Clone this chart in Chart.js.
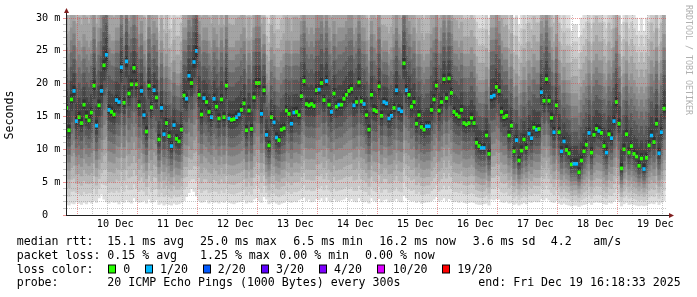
<!DOCTYPE html>
<html>
<head>
<meta charset="utf-8">
<title>SmokePing</title>
<script src="https://cdn.jsdelivr.net/npm/chart.js@4.4.1/dist/chart.umd.min.js"></script>
<style>
html,body{margin:0;padding:0;background:#ffffff;overflow:hidden}
#wrap{position:relative;width:697px;height:297px}
</style>
</head>
<body>
<div id="wrap"><canvas id="chart" width="697" height="297"></canvas></div>
<script>
// ---- data (one value per hourly column, first column = 9 Dec 16:00) ----
const FIRST_HOUR = -8;           // hours relative to 10 Dec 00:00
const dayLabels = ['10 Dec','11 Dec','12 Dec','13 Dec','14 Dec','15 Dec','16 Dec','17 Dec','18 Dec','19 Dec'];

const medianRtt = [
16.3,12.9,17.6,18.9,14.3,14.9,14.0,16.8,15.0,14.4,
15.6,19.7,13.6,16.7,18.9,22.8,24.4,16.0,15.7,15.3,
17.5,17.2,22.5,17.1,23.4,18.5,19.9,22.4,19.9,16.7,
18.9,15.2,12.7,19.7,16.4,19.0,17.9,11.5,16.3,12.3,
14.0,12.0,10.5,13.7,11.6,11.2,13.0,18.2,17.7,21.2,
20.1,23.3,25.0,18.3,15.3,17.8,17.2,15.7,14.9,17.7,
16.5,14.7,17.6,14.9,19.7,14.7,14.5,14.6,14.9,15.3,
16.0,17.0,12.9,15.9,13.1,17.9,20.1,20.1,15.4,19.0,
12.2,10.6,14.9,14.1,11.8,11.4,13.0,13.2,15.9,15.4,
13.9,15.6,15.7,15.2,18.1,20.4,16.9,16.7,16.9,16.6,
19.0,19.1,20.1,17.5,20.4,16.8,15.7,18.5,16.5,16.8,
16.8,17.7,18.3,18.9,19.2,16.7,17.2,20.2,17.3,16.9,
15.2,13.0,18.3,16.0,15.8,19.6,15.1,17.2,17.0,14.7,
15.1,16.3,19.0,16.1,15.8,23.1,19.0,18.3,16.5,17.2,
13.9,15.2,13.4,13.0,13.5,13.5,16.0,17.6,19.7,15.9,
17.2,20.7,17.8,20.8,18.6,15.7,15.3,15.0,16.0,14.0,
13.8,14.0,14.8,14.0,11.0,10.5,10.2,10.2,12.1,9.3,
18.0,18.2,19.5,18.9,15.7,14.9,15.1,12.1,13.6,9.7,
11.4,8.3,9.8,11.5,10.2,12.4,11.7,13.3,13.0,13.1,
18.7,17.4,20.7,17.4,14.8,12.6,16.7,12.6,9.7,11.2,
9.9,9.4,7.7,7.8,7.8,6.5,8.3,9.7,10.7,12.5,
9.5,12.2,13.1,12.8,12.5,10.5,9.5,12.3,11.7,14.3,
17.2,13.9,7.1,10.0,12.3,9.5,10.5,9.3,8.9,7.5,
8.6,7.0,8.7,10.6,12.1,11.1,13.9,9.4,12.6,16.2
];

// loss bucket index per column (0 = no loss, 1 = 1/20)
const lossBucket = [
0,0,0,1,1,0,0,0,0,0,
0,0,1,0,1,0,1,1,0,0,
1,1,1,0,1,0,0,0,0,0,
1,1,0,0,0,1,0,0,1,1,
0,0,1,1,0,0,0,0,1,1,
0,1,1,0,0,1,0,0,1,1,
0,0,0,0,0,1,0,0,1,1,
0,0,0,0,0,0,0,0,1,0,
1,0,0,1,1,0,0,0,0,0,
1,1,0,0,0,0,0,0,0,0,
0,1,0,0,1,0,1,0,0,1,
0,0,0,0,0,1,0,0,0,1,
0,0,0,0,0,0,0,1,1,1,
1,0,1,1,1,0,1,0,0,0,
0,0,0,0,1,1,0,0,0,0,
0,0,0,0,0,0,0,0,0,0,
0,0,0,0,0,0,1,1,0,0,
1,1,0,0,0,0,0,0,0,0,
1,0,0,0,0,1,1,0,1,0,
1,0,0,0,0,1,0,0,1,1,
0,0,0,1,1,0,0,0,0,1,
0,0,0,1,0,0,1,0,1,1,
0,0,0,0,0,0,0,0,0,0,
0,1,0,0,1,0,0,1,1,0
];

// smoke: lowest ping, lower quartile, upper quartile, high ping (ms)
const pingMin = [
1.6,1.5,1.8,1.7,2.0,1.8,1.6,1.9,1.7,2.0,
1.8,2.2,1.9,2.6,3.2,2.4,2.0,1.8,2.1,1.9,
2.0,1.7,2.2,1.9,2.3,2.0,1.8,2.6,2.1,1.9,
2.0,2.2,1.8,2.4,1.9,2.0,2.3,1.6,1.8,1.5,
1.7,1.6,1.5,1.8,1.6,1.7,1.9,2.2,2.8,3.4,
4.0,3.6,2.9,2.2,1.9,2.0,2.3,1.8,2.1,1.9,
2.0,1.8,2.1,1.9,2.2,1.9,1.8,1.7,1.9,2.0,
2.1,2.3,1.8,2.0,1.9,2.4,2.6,2.2,1.9,2.8,
2.4,1.7,1.9,2.0,1.8,1.6,1.8,1.9,2.2,2.0,
1.9,2.1,2.0,2.3,2.5,2.7,2.2,2.4,2.0,2.1,
2.5,2.3,2.6,2.1,2.7,2.2,2.0,2.4,2.1,2.2,
2.3,2.4,2.7,2.2,2.5,2.1,2.0,2.6,2.2,2.0,
2.1,1.8,2.6,2.2,2.0,2.5,2.0,2.3,2.4,2.0,
2.1,2.2,2.5,2.1,2.0,3.0,2.6,2.3,2.1,2.2,
1.9,2.1,1.8,1.9,2.0,2.0,2.2,2.4,2.8,2.1,
2.3,2.6,2.2,2.5,2.3,2.0,2.1,1.9,2.2,1.9,
1.8,1.9,2.0,1.9,1.7,1.6,1.6,1.7,1.8,1.5,
2.4,2.3,2.5,2.4,2.0,1.9,2.1,1.8,1.9,1.6,
1.8,1.5,1.7,1.9,1.7,2.0,1.9,2.1,2.0,2.0,
2.5,2.3,2.6,2.3,2.0,1.9,2.2,1.8,1.6,1.8,
1.6,1.5,1.4,1.5,1.5,1.3,1.5,1.6,1.7,1.9,
1.6,1.9,2.0,1.9,1.9,1.7,1.6,1.9,1.8,2.1,
2.4,2.0,1.4,1.7,1.9,1.6,1.7,1.6,1.5,1.4,
1.5,1.4,1.5,1.7,1.8,1.7,2.0,1.6,1.9,2.2
];
const pingQ1 = [
8.5,6.8,9.0,9.5,7.6,7.8,7.4,8.6,7.9,7.5,
8.0,9.8,7.2,8.5,9.6,11.5,12.0,8.2,8.1,7.9,
8.9,8.7,11.0,8.7,11.4,9.3,10.0,11.2,10.0,8.6,
9.5,7.9,6.8,9.8,8.4,9.6,9.1,6.3,8.3,6.6,
7.3,6.4,5.8,7.1,6.2,6.1,6.9,9.1,8.9,10.5,
10.0,11.4,12.0,9.2,7.9,9.0,8.7,8.1,7.8,8.9,
8.4,7.7,8.9,7.8,9.8,7.7,7.6,7.6,7.8,7.9,
8.2,8.6,6.9,8.2,7.0,9.0,10.0,10.0,8.0,9.5,
6.6,5.9,7.8,7.4,6.4,6.2,6.9,7.0,8.2,8.0,
7.3,8.0,8.1,7.9,9.1,10.2,8.6,8.5,8.6,8.5,
9.5,9.6,10.0,8.9,10.2,8.6,8.1,9.3,8.4,8.6,
8.6,9.0,9.2,9.5,9.6,8.5,8.8,10.1,8.8,8.6,
7.9,6.9,9.2,8.2,8.1,9.8,7.8,8.8,8.7,7.7,
7.8,8.4,9.5,8.3,8.1,11.4,9.5,9.2,8.5,8.8,
7.3,7.9,7.1,6.9,7.1,7.1,8.2,8.9,9.8,8.2,
8.8,10.3,9.0,10.3,9.3,8.1,7.9,7.8,8.2,7.3,
7.2,7.3,7.7,7.3,6.0,5.8,5.6,5.6,6.5,5.2,
9.0,9.1,9.7,9.5,8.1,7.7,7.8,6.5,7.2,5.4,
6.2,4.8,5.5,6.2,5.7,6.7,6.3,7.0,6.9,6.9,
9.3,8.8,10.2,8.8,7.7,6.7,8.5,6.7,5.4,6.1,
5.5,5.3,4.5,4.6,4.6,4.0,4.8,5.4,5.9,6.7,
5.3,6.5,6.9,6.8,6.7,5.8,5.3,6.6,6.3,7.4,
8.8,7.3,4.2,5.6,6.6,5.3,5.8,5.2,5.0,4.4,
4.9,4.2,4.9,5.8,6.5,6.0,7.3,5.3,6.7,8.4
];
const pingQ3 = [
27.5,24.5,28.5,29.5,25.5,26.5,25.5,27.5,26.5,25.5,
26.5,30.5,25.5,28.5,30.5,34,35,27.5,26.5,26.5,
28.5,28.5,32.5,27.5,33.5,29.5,30.5,32.5,30.5,27.5,
29.5,26.5,23.5,30.5,27.5,29.5,28.5,22.5,26.5,22.5,
24.5,22.5,20.5,23.5,21.5,21.5,23.5,28.5,28.5,31.5,
30.5,33.5,36,29.5,26.5,28.5,28.5,26.5,25.5,28.5,
27.5,25.5,28.5,25.5,30.5,25.5,25.5,25.5,26.5,26.5,
27.5,28.5,23.5,26.5,23.5,28.5,30.5,30.5,25.5,27.5,
21.5,20.5,25.5,24.5,22.5,22.5,23.5,24.5,26.5,26.5,
24.5,26.5,26.5,26.5,29.5,31.5,28.5,27.5,28.5,27.5,
30.5,30.5,31.5,28.5,31.5,28.5,26.5,29.5,27.5,28.5,
28.5,28.5,29.5,30.5,30.5,27.5,28.5,31.5,28.5,28.5,
26.5,23.5,29.5,27.5,26.5,30.5,25.5,26.5,26.5,24.5,
25.5,27.5,30.5,27.5,26.5,34,30.5,29.5,27.5,28.5,
24.5,26.5,24.5,23.5,24.5,24.5,27.5,28.5,30.5,26.5,
28.5,31.5,28.5,31.5,29.5,26.5,26.5,25.5,26.5,24.5,
24.5,24.5,25.5,24.5,21.5,20.5,20.5,20.5,22.5,19.5,
28.5,28.5,30.5,29.5,26.5,25.5,25.5,22.5,24.5,19.5,
21.5,18.5,20.5,22.5,20.5,23.5,22.5,24.5,23.5,23.5,
29.5,28.5,31.5,28.5,25.5,23.5,27.5,23.5,20.5,22.5,
20.5,20.5,18.5,18.5,18.5,17.5,19.5,20.5,21.5,23.5,
20.5,23.5,24.5,23.5,23.5,21.5,20.5,23.5,22.5,25.5,
28.5,24.5,18.5,21.5,23.5,20.5,21.5,20.5,19.5,18.5,
19.5,18.5,19.5,21.5,23.5,22.5,25.5,20.5,23.5,27.5
];
const pingMax = [
42,38,44,46,40,41,39,43,41,40,
42,46,40,44,48,52,54,43,42,41,
44,44,50,43,52,46,48,50,47,43,
45,41,36,46,42,45,44,33,40,34,
37,34,31,36,33,33,35,44,44,48,
47,50,54,45,41,44,44,41,40,43,
42,39,43,39,46,40,39,39,40,41,
42,43,37,41,37,44,46,46,40,38,
33,32,39,37,34,34,36,37,41,40,
38,41,41,40,45,48,43,42,43,42,
46,46,47,43,47,42,41,45,42,43,
43,44,45,46,46,42,43,47,43,42,
40,36,44,41,40,46,39,36,35,37,
38,41,45,41,40,52,46,44,42,43,
37,40,37,36,37,37,41,43,46,40,
43,47,43,47,44,40,39,37,38,35,
35,35,36,35,32,31,31,31,34,30,
43,43,45,44,40,38,39,34,37,30,
33,29,31,34,32,35,34,36,35,35,
44,42,46,42,38,35,41,35,31,33,
31,31,28,29,29,27,30,31,32,35,
31,35,36,35,35,32,31,35,34,37,
42,36,29,32,35,31,32,31,30,28,
30,28,30,32,35,33,37,31,35,40
];

const lossLabels = ['0','1/20','2/20','3/20','4/20','10/20','19/20'];
const lossColors = ['#26ff00','#00b8ff','#0059ff','#5e00ff','#7e00ff','#dd00ff','#ff0000'];

// ---- styling constants ----
const FONT = '"DejaVu Sans Mono", "Liberation Mono", monospace';
const smokeGrays = [221,202,183,164,145,126,107,88,69,50];
const X_MIN = -7.7, X_MAX = 232.3, Y_MAX = 30.46;
const MARK_HALF = 0.23;

function colX(i){ return FIRST_HOUR + i + 0.5; }
// 20 sorted ping ranks per column built from the read quantiles
function ranks(i){
  const lo = pingMin[i], q1 = pingQ1[i], m = medianRtt[i], q3 = pingQ3[i], hi = pingMax[i];
  const f = q1 - lo, g = m - q1, d = q3 - m, e = hi - q3;
  return [lo, lo+0.25*f, lo+0.5*f, lo+0.75*f, q1,
          q1+0.2*g, q1+0.4*g, q1+0.6*g, q1+0.8*g, q1+0.93*g,
          m+0.07*d, m+0.25*d, m+0.45*d, m+0.65*d, m+0.82*d,
          q3, q3+0.25*e, q3+0.5*e, q3+0.75*e, hi];
}

const datasets = [];
datasets.push({
  label: 'median',
  order: 0,
  data: medianRtt.map((m,i)=>({x: colX(i), y: [m-MARK_HALF, m+MARK_HALF]})),
  backgroundColor: ctx => lossColors[lossBucket[ctx.dataIndex]] || '#26ff00'
});
for (let k = 9; k >= 0; k--) {
  const g = smokeGrays[k];
  datasets.push({
    label: 'smoke'+k,
    order: 10 - k + 1,
    data: medianRtt.map((m,i)=>{ const p = ranks(i); return {x: colX(i), y: [p[k], p[19-k]]}; }),
    backgroundColor: `rgb(${g},${g},${g})`
  });
}

const GRID = 'rgba(143,143,143,0.5)';
const MGRID = 'rgba(222,79,79,0.6)';

const xTicks = []; for (let h = -6; h <= 228; h += 6) xTicks.push(h);
const yTicks = []; for (let v = 0; v <= 30; v++) yTicks.push(v);

function tickVal(c){ return (c && c.tick) ? c.tick.value : null; }

const decor = {
  id: 'decor',
  afterDraw(chart){
    const ctx = chart.ctx, a = chart.chartArea;
    ctx.save();
    // axis extensions + arrows
    ctx.strokeStyle = '#1f1f1f'; ctx.lineWidth = 1;
    ctx.beginPath(); ctx.moveTo(a.left+0.5, a.top); ctx.lineTo(a.left+0.5, a.top-3); ctx.stroke();
    ctx.beginPath(); ctx.moveTo(a.right, a.bottom+0.5); ctx.lineTo(a.right+4, a.bottom+0.5); ctx.stroke();
    ctx.fillStyle = '#801f1f';
    ctx.beginPath(); ctx.moveTo(a.left-2, a.top-2); ctx.lineTo(a.left+3, a.top-2); ctx.lineTo(a.left+0.5, a.top-7); ctx.closePath(); ctx.fill();
    ctx.beginPath(); ctx.moveTo(a.right+3, a.bottom-2); ctx.lineTo(a.right+3, a.bottom+3); ctx.lineTo(a.right+8, a.bottom+0.5); ctx.closePath(); ctx.fill();
    // watermark
    ctx.save();
    ctx.translate(688, 5); ctx.rotate(Math.PI/2);
    ctx.font = '8.3px ' + FONT; ctx.fillStyle = '#b0b0b0';
    ctx.textBaseline = 'middle'; ctx.textAlign = 'left';
    ctx.fillText('RRDTOOL / TOBI OETIKER', 0, 0);
    ctx.restore();
    // legend
    ctx.font = '11.6px ' + FONT; ctx.fillStyle = '#000'; ctx.textBaseline = 'alphabetic'; ctx.textAlign = 'left';
    const lines = [
      [244.5, [[16.7,'median rtt:'],[107.3,'15.1 ms avg'],[200,'25.0 ms max'],[293.3,'6.5 ms min'],[379.3,'16.2 ms now'],[472.7,'3.6 ms sd'],[550.7,'4.2'],[593.3,'am/s']]],
      [258.5, [[16.7,'packet loss:'],[107.3,'0.15 % avg'],[200,'1.25 % max'],[279.3,'0.00 % min'],[365,'0.00 % now']]],
      [272.5, [[16.7,'loss color:']]],
      [286.3, [[16.7,'probe:'],[107.3,'20 ICMP Echo Pings (1000 Bytes) every 300s'],[478.3,'end: Fri Dec 19 16:18:33 2025']]]
    ];
    lines.forEach(([y, items]) => items.forEach(([x, t]) => ctx.fillText(t, x, y)));
    const boxX = [108.5,145.5,203.5,261.5,319.5,377.5,442.5];
    const labX = [123.3,160,217.7,276,334,392.7,457.3];
    lossLabels.forEach((lab, i) => {
      ctx.fillStyle = lossColors[i]; ctx.fillRect(boxX[i], 265, 7, 8);
      ctx.strokeStyle = '#000'; ctx.lineWidth = 1; ctx.strokeRect(boxX[i], 265, 7, 8);
      ctx.fillStyle = '#000'; ctx.fillText(lab, labX[i], 272.5);
    });
    ctx.restore();
  }
};

new Chart(document.getElementById('chart'), {
  type: 'bar',
  data: { datasets },
  options: {
    responsive: false,
    animation: false,
    devicePixelRatio: 1,
    layout: { padding: { top: 15, right: 31, left: 0, bottom: 0 } },
    datasets: { bar: { grouped: false, barPercentage: 1, categoryPercentage: 1, borderWidth: 0 } },
    plugins: { legend: { display: false }, tooltip: { enabled: false } },
    scales: {
      x: {
        type: 'linear', min: X_MIN, max: X_MAX, offset: false,
        afterBuildTicks: s => { s.ticks = xTicks.map(v => ({ value: v })); },
        afterFit: s => { s.height = 82; },
        ticks: {
          autoSkip: false, maxRotation: 0, padding: 3, color: '#000',
          font: { family: FONT, size: 10.2 },
          callback: v => (((v % 24) + 24) % 24 === 12) ? dayLabels[(v - 12) / 24] : ''
        },
        grid: { z: 1, drawTicks: false, color: c => { const v = tickVal(c); return (v !== null && ((v % 24) + 24) % 24 === 0) ? MGRID : GRID; } },
        border: { display: true, color: '#1f1f1f', width: 1, dash: [1, 1], z: 2 }
      },
      y: {
        min: 0, max: Y_MAX,
        afterBuildTicks: s => { s.ticks = yTicks.map(v => ({ value: v })); },
        afterFit: s => { s.width = 66; },
        ticks: {
          autoSkip: false, padding: 2.5, color: '#000',
          font: { family: FONT, size: 10.2 },
          callback: v => (v % 5 === 0) ? (v === 0 ? '0  ' : v + ' m') : ''
        },
        grid: { z: 1, drawTicks: true, tickLength: 3, color: c => { const v = tickVal(c); return (v !== null && v % 5 === 0) ? MGRID : GRID; } },
        border: { display: true, color: '#1f1f1f', width: 1, dash: [1, 1], z: 2 },
        title: { display: true, text: 'Seconds', color: '#000', font: { family: FONT, size: 11.6 }, padding: { top: 3.5, bottom: 0 } }
      }
    }
  },
  plugins: [decor]
});
</script>
</body>
</html>
